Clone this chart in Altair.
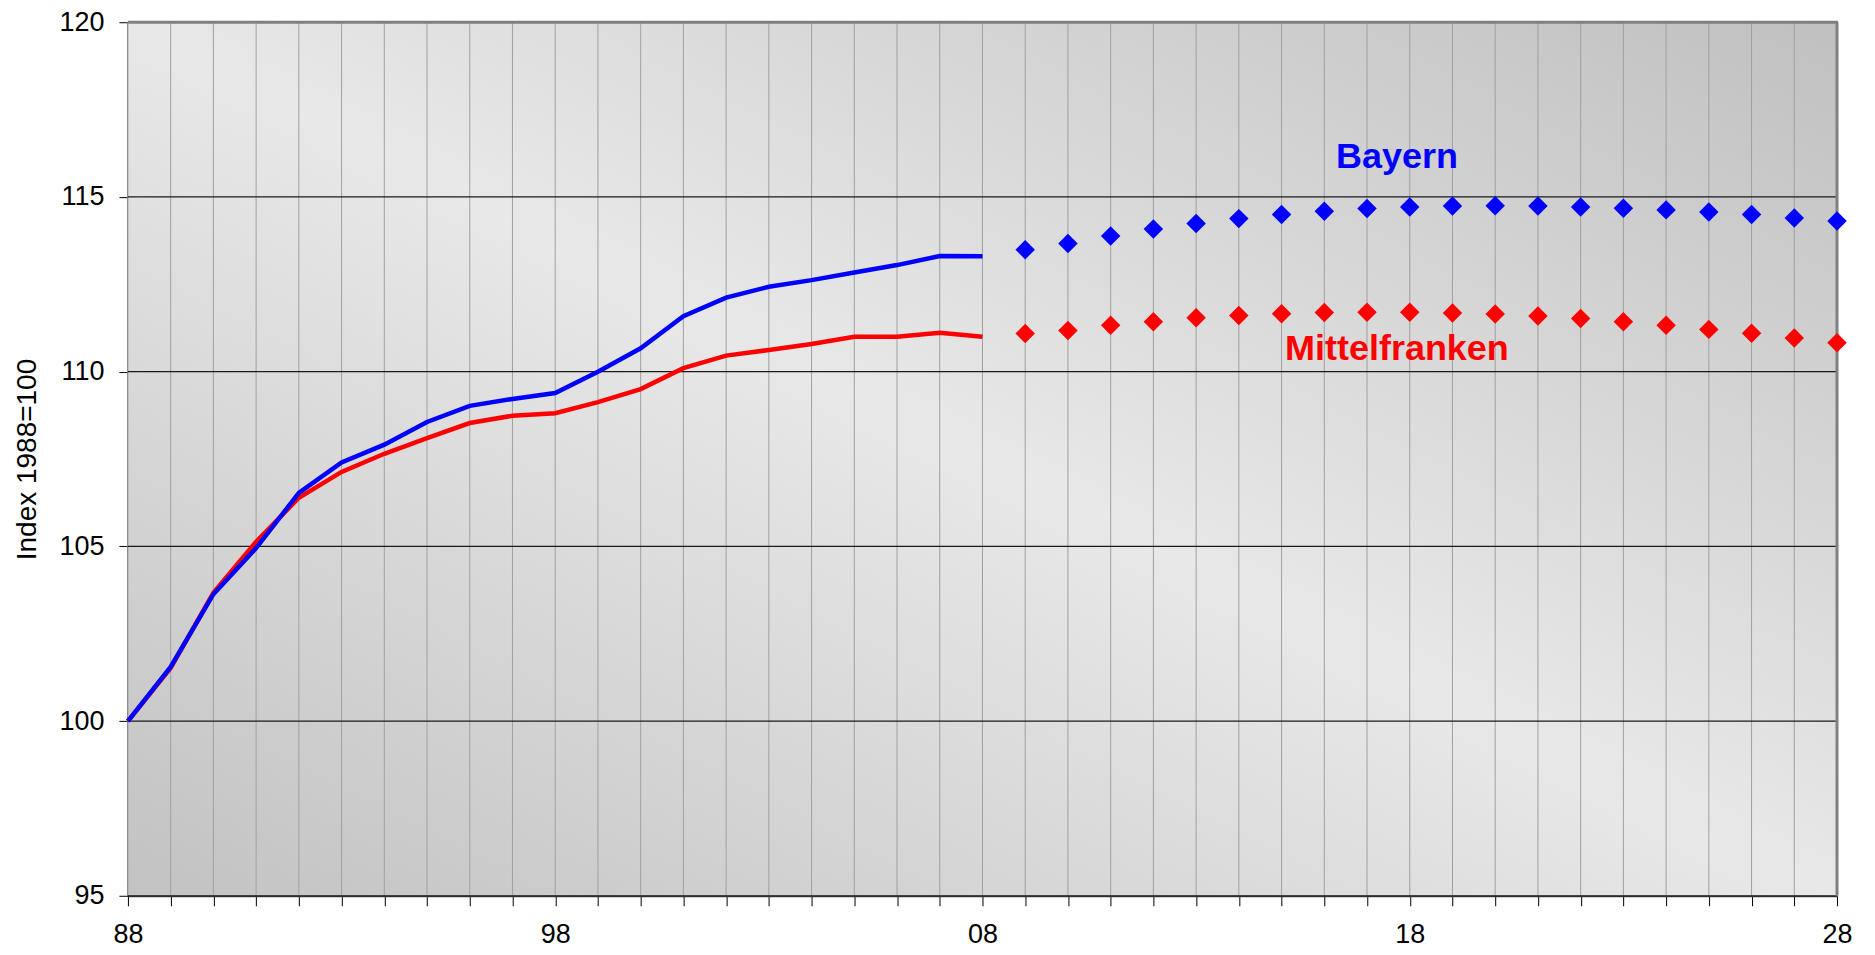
import altair as alt
import pandas as pd

# ---- data ----
hist_years = list(range(1988, 2009))
bayern_hist = [100.0, 101.55, 103.63, 104.95, 106.53, 107.40, 107.91, 108.56, 109.02, 109.22,
               109.39, 110.00, 110.67, 111.59, 112.12, 112.43, 112.62, 112.84, 113.05, 113.31, 113.30]
mittel_hist = [100.0, 101.52, 103.67, 105.13, 106.39, 107.13, 107.65, 108.10, 108.53, 108.74,
               108.81, 109.13, 109.50, 110.10, 110.46, 110.62, 110.79, 111.00, 111.00, 111.11, 111.00]
proj_years = list(range(2009, 2029))
bayern_proj = [113.49, 113.67, 113.88, 114.08, 114.24, 114.38, 114.50, 114.59, 114.67, 114.71,
               114.74, 114.75, 114.74, 114.71, 114.68, 114.63, 114.57, 114.50, 114.40, 114.31]
mittel_proj = [111.09, 111.18, 111.33, 111.43, 111.54, 111.61, 111.66, 111.69, 111.70, 111.70,
               111.68, 111.65, 111.59, 111.52, 111.43, 111.33, 111.21, 111.10, 110.96, 110.83]
x_ticks = list(range(1988, 2029))
y_ticks = [95, 100, 105, 110, 115, 120]
series_names = ["Bayern", "Mittelfranken"]
series_colors = ["#0000ff", "#ff0000"]

W, H = 1710, 874
FONT = "Liberation Sans"

hist_b = pd.DataFrame({"year": hist_years, "value": bayern_hist, "series": "Bayern"})
hist_m = pd.DataFrame({"year": hist_years, "value": mittel_hist, "series": "Mittelfranken"})
proj = pd.DataFrame({
    "year": proj_years + proj_years,
    "value": bayern_proj + mittel_proj,
    "series": ["Bayern"] * len(proj_years) + ["Mittelfranken"] * len(proj_years),
})

xscale = alt.Scale(domain=[1988, 2028], nice=False, zero=False)
yscale = alt.Scale(domain=[95, 120], nice=False, zero=False)
cscale = alt.Scale(domain=series_names, range=series_colors)

x_axis = alt.Axis(values=x_ticks, grid=False, tickSize=10, tickColor="#000000", tickWidth=1,
                  domainColor="#404040", domainWidth=2,
                  labelExpr="(datum.value - 1988) % 10 == 0 ? slice(toString(datum.value), 2) : ''",
                  labelFont=FONT, labelFontSize=27, labelColor="#000000", labelPadding=16,
                  labelOverlap=False, labelFlush=False, title=None)
y_axis = alt.Axis(values=y_ticks, grid=False, tickSize=9, tickColor="#000000", tickWidth=1,
                  domainColor="#000000", domainWidth=2,
                  labelFont=FONT, labelFontSize=27, labelColor="#000000", labelPadding=15,
                  title="Index 1988=100", titleFont=FONT, titleFontSize=28, titleFontWeight="normal",
                  titleColor="#000000", titleAngle=-90, titleX=-100, titleY=H / 2,
                  titleAlign="center", titleBaseline="middle")

base = alt.Chart(pd.DataFrame({"a": [0]}))

bg = base.mark_rect(
    fill=alt.Gradient(
        gradient="linear",
        stops=[alt.GradientStop(color="#c2c2c2", offset=0),
               alt.GradientStop(color="#e8e8e8", offset=0.5),
               alt.GradientStop(color="#c0c0c0", offset=1)],
        x1=0, y1=1, x2=1, y2=0,
    )
).encode(x=alt.value(0), x2=alt.value(W), y=alt.value(0), y2=alt.value(H))

vgrid = alt.Chart(pd.DataFrame({"year": x_ticks})).mark_rule(color="#a0a0a0", strokeWidth=1).encode(
    x=alt.X("year:Q", scale=xscale, axis=x_axis)
)
hgrid = alt.Chart(pd.DataFrame({"value": y_ticks})).mark_rule(color="#1a1a1a", strokeWidth=1.3).encode(
    y=alt.Y("value:Q", scale=yscale, axis=y_axis)
)

top_border = base.mark_rule(color="#808080", strokeWidth=3).encode(
    x=alt.value(0), x2=alt.value(W + 1), y=alt.value(0)
)
right_border = base.mark_rule(color="#808080", strokeWidth=3).encode(
    x=alt.value(W), y=alt.value(0), y2=alt.value(H)
)


def line_layer(df):
    return alt.Chart(df).mark_line(strokeWidth=4.5, strokeCap="butt", strokeJoin="miter").encode(
        x=alt.X("year:Q", scale=xscale),
        y=alt.Y("value:Q", scale=yscale),
        color=alt.Color("series:N", scale=cscale, legend=None),
    )


red_line = line_layer(hist_m)
blue_line = line_layer(hist_b)

diamonds = alt.Chart(proj).mark_point(shape="diamond", filled=True, size=380, opacity=1).encode(
    x=alt.X("year:Q", scale=xscale),
    y=alt.Y("value:Q", scale=yscale),
    color=alt.Color("series:N", scale=cscale, legend=None),
)

label_b = base.mark_text(text="Bayern", font=FONT, fontSize=36, fontWeight="bold",
                         color="#0000ff", align="center", baseline="alphabetic").encode(
    x=alt.X(datum=2017.7, scale=xscale), y=alt.Y(datum=115.83, scale=yscale)
)
label_m = base.mark_text(text="Mittelfranken", font=FONT, fontSize=36, fontWeight="bold",
                         color="#ff0000", align="center", baseline="alphabetic").encode(
    x=alt.X(datum=2017.7, scale=xscale), y=alt.Y(datum=110.33, scale=yscale)
)

chart = alt.layer(
    bg, vgrid, hgrid, top_border, right_border, red_line, blue_line, diamonds, label_b, label_m
).properties(
    width=W, height=H,
    autosize=alt.AutoSizeParams(type="none"),
    padding={"left": 120, "top": 14, "right": 30, "bottom": 60},
).configure_view(stroke=None)

chart.save("out.html", embed_options={"renderer": "svg", "actions": False})
